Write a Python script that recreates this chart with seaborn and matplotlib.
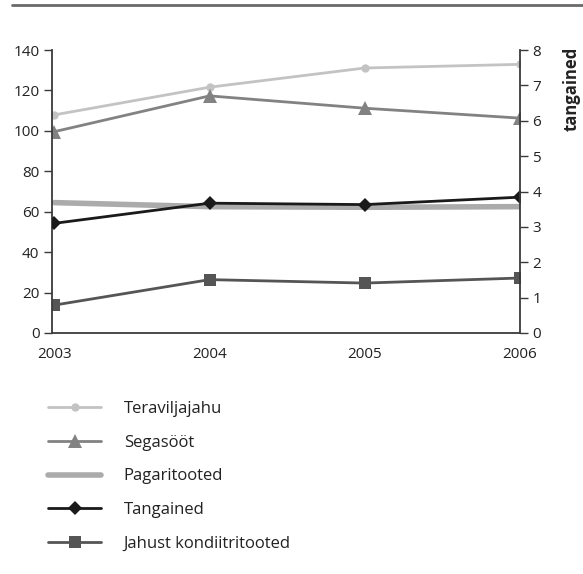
import matplotlib
matplotlib.use("Agg")
import matplotlib.pyplot as plt
import seaborn as sns
import pandas as pd

years = [2003, 2004, 2005, 2006]
teraviljajahu = [107.9, 121.6, 131.1, 132.9]
segasoot = [99.6, 117.3, 111.2, 106.3]
pagaritooted = [64.5, 62.5, 62.2, 62.5]
tangained = [3.10, 3.67, 3.63, 3.84]
jahust = [13.8, 26.4, 24.7, 27.2]

labels = ["Teraviljajahu", "Segasööt", "Pagaritooted", "Tangained", "Jahust kondiitritooted"]
left_ticks = [0, 20, 40, 60, 80, 100, 120, 140]
right_ticks = [0, 1, 2, 3, 4, 5, 6, 7, 8]
right_label = "tangained"

sns.set_theme(style="white")
plt.rcParams['font.family'] = ['Open Sans', 'DejaVu Sans']

W, H = 583, 574
fig = plt.figure(figsize=(W / 100, H / 100), dpi=100)
ax = fig.add_axes([52 / W, 1 - 333 / H, (520 - 52) / W, (333 - 50) / H])
ax2 = ax.twinx()

df = pd.DataFrame({"year": years, "t": teraviljajahu, "s": segasoot,
                   "p": pagaritooted, "tg": tangained, "j": jahust})

sns.lineplot(data=df, x="year", y="t", ax=ax, color="#c3c3c3", lw=2,
             marker="o", markersize=6, markeredgewidth=0, label=labels[0])
sns.lineplot(data=df, x="year", y="s", ax=ax, color="#828282", lw=2,
             marker="^", markersize=10, markeredgewidth=0, label=labels[1])
sns.lineplot(data=df, x="year", y="p", ax=ax, color="#ababab", lw=4,
             label=labels[2])
sns.lineplot(data=df, x="year", y="j", ax=ax, color="#555555", lw=2,
             marker="s", markersize=8, markeredgewidth=0, label=labels[4])
sns.lineplot(data=df, x="year", y="tg", ax=ax2, color="#1a1a1a", lw=2,
             marker="D", markersize=7, markeredgewidth=0, label=labels[3])

ax.set_xlim(2002.985, 2006.0)
ax.set_ylim(0, 140)
ax2.set_ylim(0, 8)
ax.set_yticks(left_ticks)
ax2.set_yticks(right_ticks)
ax.set_xticks(years)
ax.set_xticklabels([str(y) for y in years])
ax.set_xlabel("")
ax.set_ylabel("")
ax2.set_ylabel("")

for a in (ax, ax2):
    for s in a.spines.values():
        s.set_visible(False)
ax.spines["left"].set_visible(True)
ax.spines["bottom"].set_visible(True)
ax2.spines["right"].set_visible(True)
for s in (ax.spines["left"], ax.spines["bottom"], ax2.spines["right"]):
    s.set_color("#3a3a3a")
    s.set_linewidth(1.3)

ax.tick_params(axis="y", left=True, length=6, width=1, color="#3a3a3a",
               labelsize=11, labelcolor="#222222", pad=3)
ax.tick_params(axis="x", bottom=False, labelsize=11, labelcolor="#222222", pad=4)
ax2.tick_params(axis="y", right=True, length=6, width=1, color="#3a3a3a",
                labelsize=11, labelcolor="#222222", pad=3)
ax.grid(False)
ax2.grid(False)

hl, ll = ax.get_legend_handles_labels()
hl2, ll2 = ax2.get_legend_handles_labels()
if ax.get_legend():
    ax.get_legend().remove()
if ax2.get_legend():
    ax2.get_legend().remove()
handles = [hl[0], hl[1], hl[2], hl2[0], hl[3]]
names = [ll[0], ll[1], ll[2], ll2[0], ll[3]]
fig.legend(handles, names, loc="upper left", bbox_to_anchor=(33 / W, 1 - 386 / H),
           frameon=False, fontsize=12, handlelength=3.2, handletextpad=1.35,
           labelspacing=1.06, labelcolor="#222222")

fig.text(1 - 11 / W, 1 - 47 / H, right_label, rotation=90, ha="center", va="top",
         fontsize=12, fontweight="bold", color="#222222")

fig.add_artist(plt.Line2D([12 / W, 1], [1 - 5 / H, 1 - 5 / H], color="#6a6a6a", lw=2))

fig.savefig("out.png", dpi=100)
